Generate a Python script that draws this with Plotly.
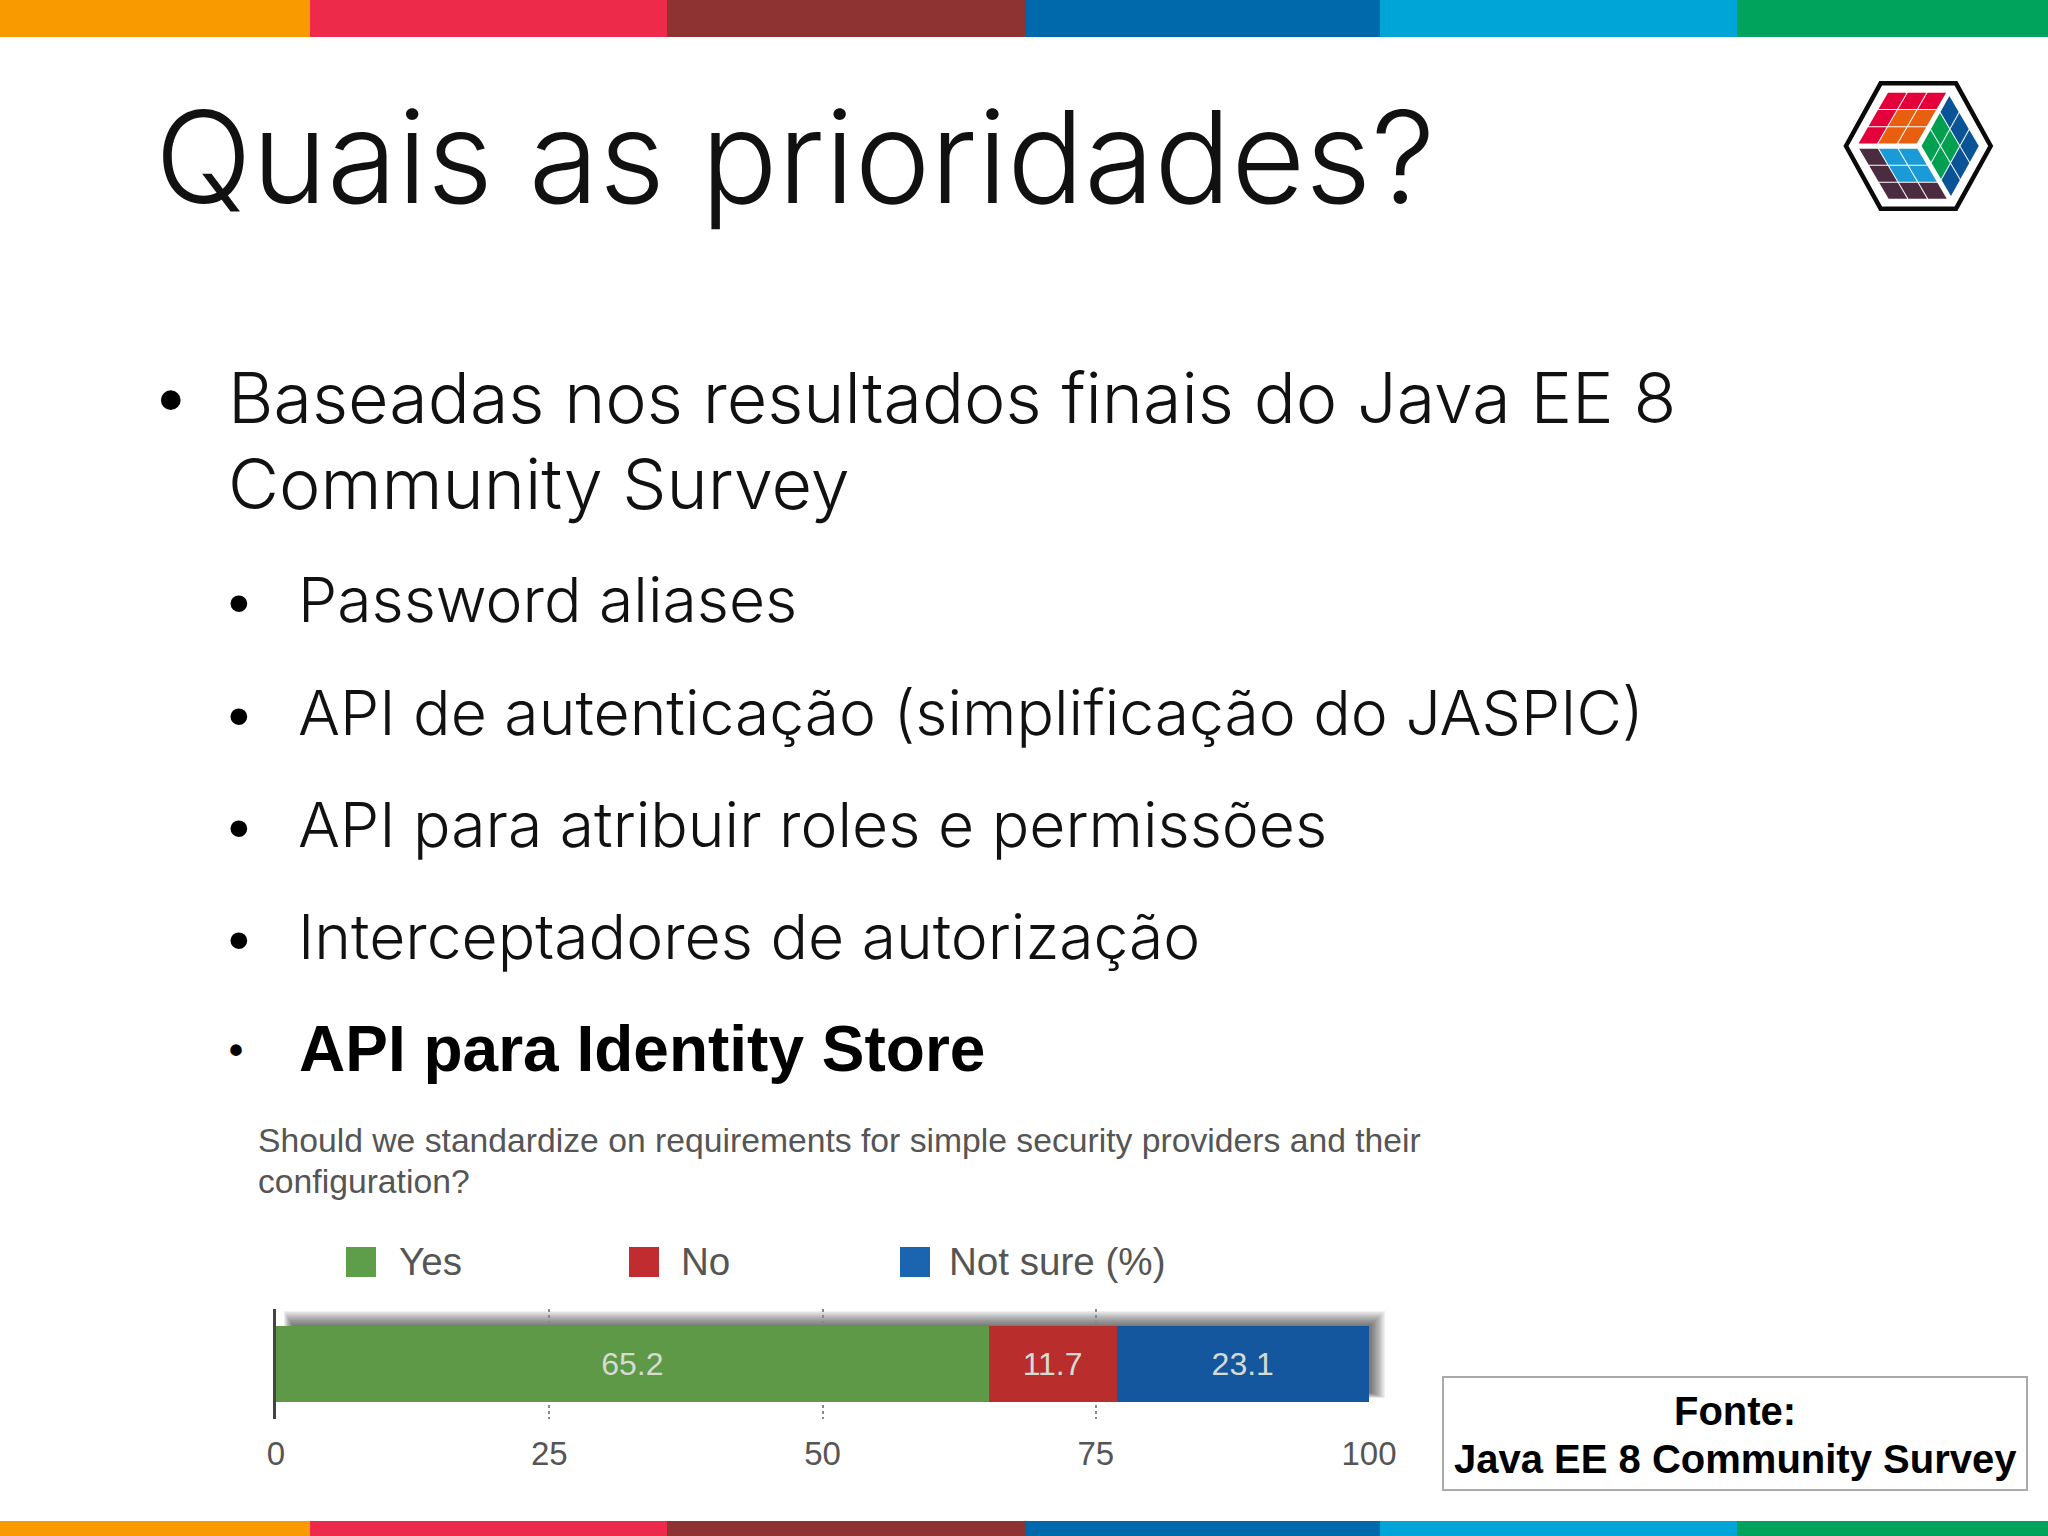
import plotly.graph_objects as go

W = 2048
H = 1536

# chart data
categories = ["Yes", "No", "Not sure (%)"]
values = [65.2, 11.7, 23.1]
bar_colors = ["#5e9948", "#b92d2d", "#15579f"]
swatch_colors = ["#5e9e4a", "#c02c2f", "#1b64b0"]
tick_vals = [0, 25, 50, 75, 100]

# slide furniture
strip_edges = [0, 310, 667, 1026, 1380, 1737, 2048]
strip_colors = ["#f99a00", "#ee2a4b", "#8e3232", "#0069ab", "#00a5d8", "#00a35b"]

title = "Quais as prioridades?"
level1 = ["Baseadas nos resultados finais do Java EE 8", "Community Survey"]
level2 = ["Password aliases", "API de autenticação (simplificação do JASPIC)",
          "API para atribuir roles e permissões", "Interceptadores de autorização"]
bold_item = "API para Identity Store"
question = ["Should we standardize on requirements for simple security providers and their", "configuration?"]
source = ["Fonte:", "Java EE 8 Community Survey"]

LIGHT = "Inter"
SANS = "Liberation Sans"


def px(x):
    return x / W


def py(y):
    return 1 - y / H


shapes = []
annotations = []


def rect(x0, y0, x1, y1, color, line=None, width=0):
    shapes.append(dict(type="rect", xref="paper", yref="paper", x0=px(x0), x1=px(x1),
                       y0=py(y0), y1=py(y1), fillcolor=color, layer="below",
                       line=dict(color=line, width=width) if line else dict(width=0)))


def poly(points, fill=None, line=None, width=0):
    path = "M " + " L ".join(f"{px(a):.5f},{py(b):.5f}" for a, b in points) + " Z"
    shapes.append(dict(type="path", xref="paper", yref="paper", path=path, fillcolor=fill,
                       line=dict(color=line, width=width) if line else dict(width=0)))


def text(x, base, s, size, color="#111111", family=LIGHT, weight=300, anchor="left"):
    # base is the text baseline in pixels
    annotations.append(dict(xref="paper", yref="paper", x=px(x), y=py(base + 0.22 * size), text=s,
                            xanchor=anchor, yanchor="bottom", showarrow=False, borderpad=0,
                            font=dict(family=family, size=size, color=color, weight=weight)))


# colour strips, top and bottom
for i, c in enumerate(strip_colors):
    rect(strip_edges[i], 0, strip_edges[i + 1], 37, c)
    rect(strip_edges[i], 1521, strip_edges[i + 1], 1536, c)

# slide text
text(154, 207, title, 127.7)
text(171, 424, "•", 73, color="#000000", family=SANS, weight=400, anchor="center")
text(227, 426, level1[0], 70)
text(227, 512, level1[1], 70)
for y, s in zip([624, 737, 849, 961], level2):
    text(239, y, "•", 62, color="#000000", family=SANS, weight=400, anchor="center")
    text(297, y, s, 62.4)
text(236, 1064, "•", 40, color="#000000", family=SANS, weight=700, anchor="center")
text(298, 1072, bold_item, 64, color="#000000", family=SANS, weight=700)

# survey question and legend
text(257, 1153, question[0], 33.7, color="#555555", family=SANS, weight=400)
text(257, 1194, question[1], 33.7, color="#555555", family=SANS, weight=400)
for name, col, x0, tx in zip(categories, swatch_colors, [346, 629, 900], [398, 680, 948]):
    rect(x0, 1247, x0 + 30, 1277, col)
    text(tx, 1276, name, 38.6, color="#555555", family=SANS, weight=400)

# source box
rect(1443, 1377, 2027, 1490, "#ffffff", line="#aaaaaa", width=2)
text(1735, 1425, source[0], 40, color="#000000", family=SANS, weight=700, anchor="center")
text(1735, 1473, source[1], 40, color="#000000", family=SANS, weight=700, anchor="center")

# soft shadow behind the bar, nested boxes that darken towards the middle
for i in range(12):
    rect(284 + i * 0.8, 1311 + i * 1.3, 1385 - i * 1.3, 1398 - i * 0.5, "rgba(40,40,40,0.075)")

# logo
ox, oy = 1820, 60


def lp(a, b):
    return (ox + a / 3, oy + b / 3)


hexagon = [(182, 70), (408, 70), (512, 258), (408, 446), (182, 446), (78, 258)]
poly([lp(a, b) for a, b in hexagon], fill="#ffffff", line="#0a0a0a", width=4.5)


def face(corner, u, v, colors):
    # corner plus u and v edge vectors, 3x3 cells with a thin white gap
    for r in range(3):
        for c in range(3):
            pts = []
            for du, dv in [(0.03, 0.03), (0.97, 0.03), (0.97, 0.97), (0.03, 0.97)]:
                a = corner[0] + (c + du) * u[0] / 3 + (r + dv) * v[0] / 3
                b = corner[1] + (c + du) * u[1] / 3 + (r + dv) * v[1] / 3
                pts.append(lp(a, b))
            poly(pts, fill=colors[r][c])


RED, ORG, GRN, NAVY, SKY, PLUM = "#e4003a", "#e8600f", "#00a050", "#0a5396", "#1a9ad6", "#4a2b3f"
face((203, 97), (178, 0), (-90, 155), [[RED, RED, RED], [RED, ORG, ORG], [RED, ORG, ORG]])
face((388, 105), (90, 153), (-85, 153), [[NAVY, NAVY, NAVY], [GRN, GRN, NAVY], [GRN, GRN, NAVY]])
face((115, 265), (178, 0), (90, 153), [[PLUM, SKY, SKY], [PLUM, SKY, SKY], [PLUM, PLUM, PLUM]])

fig = go.Figure()
for name, val, col in zip(categories, values, bar_colors):
    fig.add_trace(go.Bar(
        y=["q"], x=[val], name=name, orientation="h",
        marker=dict(color=col, line=dict(width=0)),
        text=[val], texttemplate="%{text:.1f}", textposition="inside", insidetextanchor="middle",
        textangle=0, constraintext="none",
        textfont=dict(family=SANS, size=32, color="#d5dcd2"),
        showlegend=False,
    ))

fig.update_layout(
    width=W,
    height=H,
    margin=dict(l=0, r=0, t=0, b=0),
    paper_bgcolor="#ffffff",
    plot_bgcolor="rgba(0,0,0,0)",
    barmode="stack",
    bargap=0.318,
    shapes=shapes,
    annotations=annotations,
    showlegend=False,
    xaxis=dict(domain=[px(276), px(1369)], range=[0, 100], tickvals=tick_vals, showgrid=True,
               gridcolor="#888888", griddash="dot", gridwidth=1.5, zeroline=False, showline=False,
               ticks="", ticklabelstandoff=12, automargin=False, layer="below traces",
               tickfont=dict(family=SANS, size=33, color="#555555")),
    yaxis=dict(domain=[py(1419), py(1309)], showticklabels=False, ticks="", showgrid=False,
               zeroline=False, showline=True, linecolor="#444444", linewidth=3, automargin=False),
)

fig.write_html("out.html", config=dict(displayModeBar=False),
               post_script="document.body.style.margin='0';")
